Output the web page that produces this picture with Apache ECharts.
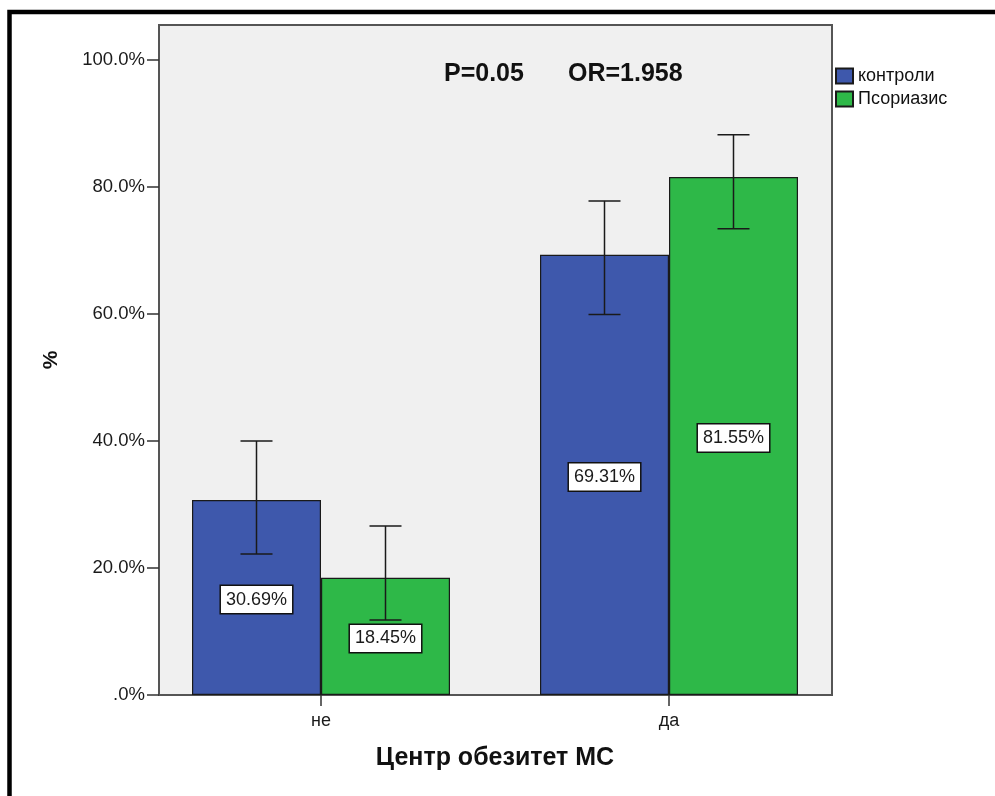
<!DOCTYPE html>
<html>
<head>
<meta charset="utf-8">
<script src="https://cdn.jsdelivr.net/npm/echarts@6/dist/echarts.min.js"></script>
<style>
html,body{margin:0;padding:0;background:#fff;}
#chart{width:995px;height:796px;}
</style>
</head>
<body>
<div id="chart"></div>
<script>
const categories = ['не', 'да'];
const seriesNames = ['контроли', 'Псориазис'];
const controlValues = [30.69, 69.31];
const psoriasisValues = [18.45, 81.55];
const controlErrLow = [22.2, 59.9];
const controlErrHigh = [40.0, 77.8];
const psoriasisErrLow = [11.8, 73.4];
const psoriasisErrHigh = [26.6, 88.2];
const yTickValues = [0, 20, 40, 60, 80, 100];
const yTickLabels = ['.0%', '20.0%', '40.0%', '60.0%', '80.0%', '100.0%'];
const annotations = ['P=0.05', 'OR=1.958'];
const xAxisTitle = 'Центр обезитет МС';
const yAxisTitle = '%';

const FONT = "'Liberation Sans', Arial, sans-serif";
const BAR_WIDTH = 129;
const Y_MAX = 105.5;
const colors = ['#3E58AC', '#2EB848'];

function errData(lo, hi) {
  return categories.map((c, i) => [i, lo[i], hi[i]]);
}
function makeErr(sign) {
  return function (params, api) {
    const i = api.value(0);
    const top = api.coord([i, api.value(2)]);
    const bot = api.coord([i, api.value(1)]);
    const x = top[0] + sign * BAR_WIDTH / 2;
    const cap = 16;
    const st = { stroke: '#1a1a1a', lineWidth: 1.5 };
    return {
      type: 'group',
      children: [
        { type: 'line', shape: { x1: x, y1: top[1], x2: x, y2: bot[1] }, style: st },
        { type: 'line', shape: { x1: x - cap, y1: top[1], x2: x + cap, y2: top[1] }, style: st },
        { type: 'line', shape: { x1: x - cap, y1: bot[1], x2: x + cap, y2: bot[1] }, style: st }
      ]
    };
  };
}

const labelStyle = {
  show: true,
  position: 'inside',
  offset: [0, 2],
  formatter: p => p.value.toFixed(2) + '%',
  backgroundColor: '#fff',
  borderColor: '#111',
  borderWidth: 1.5,
  padding: [5, 5, 4, 5],
  color: '#1a1a1a',
  fontSize: 18,
  fontFamily: FONT
};

const chart = echarts.init(document.getElementById('chart'), null, { renderer: 'canvas' });
chart.setOption({
  animation: false,
  textStyle: { fontFamily: FONT },
  grid: [
    { left: 147, top: 25, width: 696, height: 670, show: false, containLabel: false },
    { left: 159, top: 25, width: 673, height: 670, show: true, backgroundColor: '#f0f0f0', borderColor: '#555', borderWidth: 2, containLabel: false }
  ],
  xAxis: [
    {
      type: 'category', gridIndex: 0, data: categories,
      axisLine: { show: false },
      axisTick: { show: true, alignWithLabel: true, length: 11, lineStyle: { color: '#333', width: 1.5 } },
      axisLabel: { fontSize: 18, color: '#1a1a1a', margin: 17, fontFamily: FONT },
      name: xAxisTitle, nameLocation: 'middle', nameGap: 51,
      nameTextStyle: { fontSize: 25, fontWeight: 'bold', color: '#111', fontFamily: FONT }
    },
    { type: 'value', gridIndex: 1, show: false, min: 0, max: 1 }
  ],
  yAxis: [
    { type: 'value', gridIndex: 0, min: 0, max: Y_MAX, show: false, splitLine: { show: false } },
    {
      type: 'value', gridIndex: 1, min: 0, max: Y_MAX, interval: 20,
      axisLine: { show: false },
      splitLine: { show: false },
      axisTick: { show: true, length: 12, customValues: yTickValues, lineStyle: { color: '#333', width: 1.5 } },
      axisLabel: {
        customValues: yTickValues, fontSize: 18.5, color: '#1a1a1a', margin: 14, fontFamily: FONT,
        formatter: v => { const k = yTickValues.indexOf(v); return k >= 0 ? yTickLabels[k] : ''; }
      },
      name: yAxisTitle, nameLocation: 'middle', nameGap: 97,
      nameTextStyle: { fontSize: 21, fontWeight: 'bold', color: '#111', fontFamily: FONT }
    }
  ],
  legend: {
    data: seriesNames, orient: 'vertical', left: 830, top: 62, align: 'left',
    itemWidth: 17, itemHeight: 15, itemGap: 5, icon: 'rect',
    textStyle: { fontSize: 18, color: '#111', fontFamily: FONT }
  },
  graphic: [
    { type: 'rect', shape: { x: 9.5, y: 12, width: 1100, height: 900 }, style: { fill: 'none', stroke: '#000', lineWidth: 4.5 }, silent: true },
    { type: 'text', x: 444, y: 74, style: { text: annotations[0], font: "bold 25px 'Liberation Sans', Arial", fill: '#111', verticalAlign: 'middle' }, z: 10 },
    { type: 'text', x: 568, y: 74, style: { text: annotations[1], font: "bold 25px 'Liberation Sans', Arial", fill: '#111', verticalAlign: 'middle' }, z: 10 }
  ],
  series: [
    {
      name: seriesNames[0], type: 'bar', xAxisIndex: 0, yAxisIndex: 0, data: controlValues,
      barWidth: BAR_WIDTH, barGap: '0%',
      itemStyle: { color: colors[0], borderColor: '#1a1a1a', borderWidth: 1.2 },
      label: labelStyle
    },
    {
      name: seriesNames[1], type: 'bar', xAxisIndex: 0, yAxisIndex: 0, data: psoriasisValues,
      barWidth: BAR_WIDTH, barGap: '0%',
      itemStyle: { color: colors[1], borderColor: '#1a1a1a', borderWidth: 1.2 },
      label: labelStyle
    },
    {
      type: 'custom', xAxisIndex: 0, yAxisIndex: 0, z: 5,
      data: errData(controlErrLow, controlErrHigh),
      encode: { x: 0, y: [1, 2] },
      renderItem: makeErr(-1)
    },
    {
      type: 'custom', xAxisIndex: 0, yAxisIndex: 0, z: 5,
      data: errData(psoriasisErrLow, psoriasisErrHigh),
      encode: { x: 0, y: [1, 2] },
      renderItem: makeErr(1)
    }
  ]
});
</script>
</body>
</html>
